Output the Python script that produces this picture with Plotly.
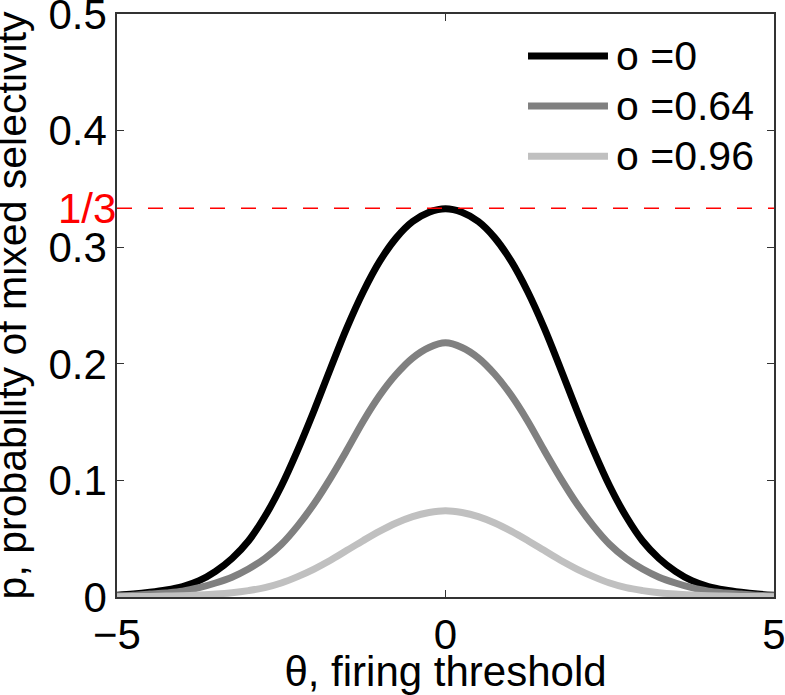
import plotly.graph_objects as go

# firing threshold grid and curves
theta = [-5.0, -4.75, -4.5, -4.25, -4.0, -3.75, -3.5, -3.25, -3.0, -2.75, -2.5,
         -2.25, -2.0, -1.75, -1.5, -1.25, -1.0, -0.75, -0.5, -0.25, 0.0,
         0.25, 0.5, 0.75, 1.0, 1.25, 1.5, 1.75, 2.0, 2.25, 2.5,
         2.75, 3.0, 3.25, 3.5, 3.75, 4.0, 4.25, 4.5, 4.75, 5.0]
p_o0 = [0.0015, 0.0025, 0.004, 0.006, 0.009, 0.014, 0.022, 0.033, 0.048, 0.069, 0.095,
        0.126, 0.160, 0.196, 0.231, 0.262, 0.288, 0.308, 0.322, 0.330, 0.333,
        0.330, 0.322, 0.308, 0.288, 0.262, 0.231, 0.196, 0.160, 0.126, 0.095,
        0.069, 0.048, 0.033, 0.022, 0.014, 0.009, 0.006, 0.004, 0.0025, 0.0015]
p_o064 = [0.001, 0.0015, 0.0025, 0.0035, 0.005, 0.008, 0.012, 0.017, 0.024, 0.033, 0.045,
          0.061, 0.080, 0.102, 0.126, 0.151, 0.173, 0.191, 0.205, 0.214, 0.218,
          0.214, 0.205, 0.191, 0.173, 0.151, 0.126, 0.102, 0.080, 0.061, 0.045,
          0.033, 0.024, 0.017, 0.012, 0.008, 0.005, 0.0035, 0.0025, 0.0015, 0.001]
p_o096 = [0.0003, 0.0004, 0.0005, 0.0008, 0.0011, 0.0017, 0.0025, 0.0037, 0.0055, 0.008, 0.012,
          0.0175, 0.024, 0.0315, 0.040, 0.0485, 0.0565, 0.0635, 0.069, 0.0725, 0.074,
          0.0725, 0.069, 0.0635, 0.0565, 0.0485, 0.040, 0.0315, 0.024, 0.0175, 0.012,
          0.008, 0.0055, 0.0037, 0.0025, 0.0017, 0.0011, 0.0008, 0.0005, 0.0004, 0.0003]

series_names = ["o =0", "o =0.64", "o =0.96"]
series_colors = ["#000000", "#808080", "#c0c0c0"]
x_ticks = [-5, 0, 5]
y_ticks = [0, 0.1, 0.2, 0.3, 0.4, 0.5]
y_tick_text = ["0", "0.1", "0.2", "0.3", "0.4", "0.5"]
one_third = 1 / 3

FONT = "Liberation Sans, Arial, Helvetica, sans-serif"
FONT_SIZE = 42
AXIS_COLOR = "#333333"

fig = go.Figure()
for name, ys, color in zip(series_names, [p_o0, p_o064, p_o096], series_colors):
    fig.add_trace(go.Scatter(x=theta, y=ys, mode="lines", name=name,
                             line=dict(color=color, width=7, shape="spline", smoothing=1.0),
                             showlegend=False, hoverinfo="skip"))

# dashed reference line at 1/3
fig.add_shape(type="line", xref="x", yref="y", x0=-5, x1=5, y0=one_third, y1=one_third,
              line=dict(color="#ff0000", width=1.5, dash="15px,16px"))
fig.add_annotation(xref="paper", yref="y", x=0, y=one_third, text="1/3", showarrow=False,
                   xanchor="right", yanchor="middle", xshift=1,
                   font=dict(family=FONT, size=FONT_SIZE, color="#ff0000"))

# hand-made legend (long line samples like the original)
legend_y = [0.928, 0.842, 0.756]
for name, color, ly in zip(series_names, series_colors, legend_y):
    fig.add_shape(type="line", xref="paper", yref="paper", x0=0.6256, x1=0.7473, y0=ly, y1=ly,
                  line=dict(color=color, width=7))
    fig.add_annotation(xref="paper", yref="paper", x=0.756, y=ly, text=name, showarrow=False,
                       xanchor="left", yanchor="middle",
                       font=dict(family=FONT, size=FONT_SIZE - 1, color="#000000"))

# y title as a rotated annotation so it can sit right at the page edge
fig.add_annotation(xref="paper", yref="paper", x=-0.160, y=0.5, textangle=-90,
                   text="p, probability of mixed selectivity", showarrow=False,
                   xanchor="center", yanchor="middle",
                   font=dict(family=FONT, size=FONT_SIZE - 1, color="#000000"))

axis_common = dict(showgrid=False, zeroline=False, showline=True, linecolor=AXIS_COLOR,
                   linewidth=1.5, mirror="ticks", ticks="inside", ticklen=7,
                   tickcolor=AXIS_COLOR, tickwidth=1.2, ticklabeloverflow="allow",
                   tickfont=dict(family=FONT, size=FONT_SIZE, color="#000000"))

fig.update_xaxes(range=[-5, 5], tickvals=x_ticks, **axis_common,
                 title=dict(text="θ, firing threshold", standoff=0,
                            font=dict(family=FONT, size=FONT_SIZE, color="#000000")))
fig.update_yaxes(range=[0, 0.5], tickvals=y_ticks, ticktext=y_tick_text, **axis_common)

fig.update_layout(width=785, height=695, margin=dict(l=117, r=11, t=14, b=98, autoexpand=False),
                  plot_bgcolor="white", paper_bgcolor="white", font=dict(family=FONT))

# drop the browser's default 8px body margin so the figure fills the window
fig.write_html("out.html", config={"displayModeBar": False},
               post_script="document.body.style.margin = '0px';")
